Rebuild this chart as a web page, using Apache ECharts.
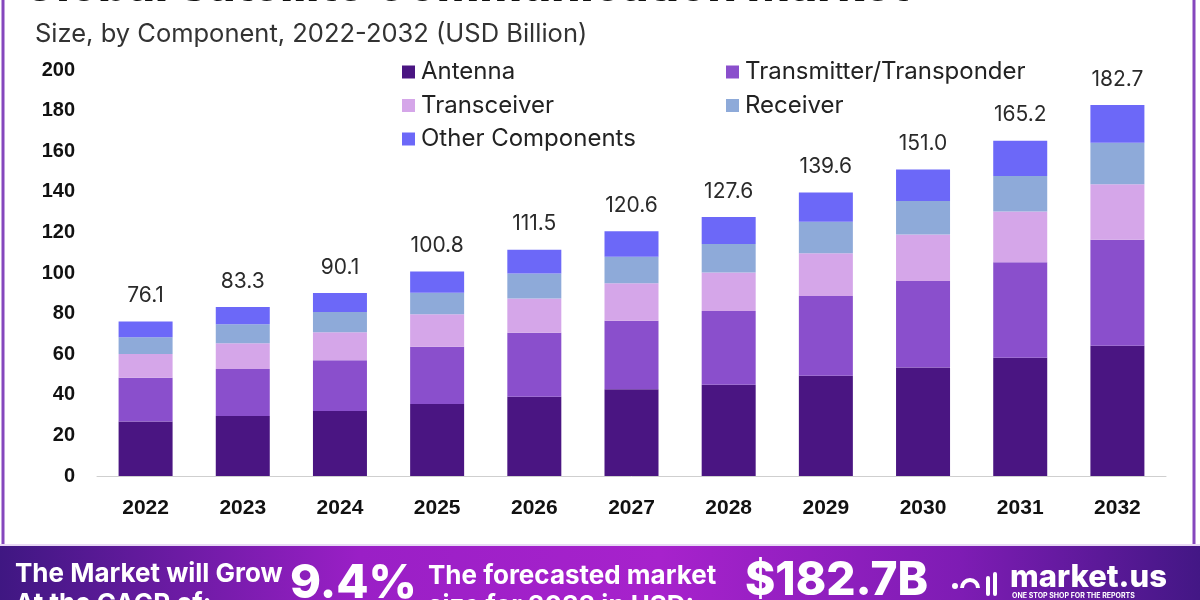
<!DOCTYPE html>
<html>
<head>
<meta charset="utf-8">
<style>html,body{margin:0;padding:0;background:#fff;}#c{width:1200px;height:600px;}</style>
<script src="https://cdn.jsdelivr.net/npm/echarts@6/dist/echarts.min.js"></script>
</head>
<body>
<div id="c"></div>
<script>
const years = ['2022','2023','2024','2025','2026','2027','2028','2029','2030','2031','2032'];
const antenna     = [26.9, 29.6, 32.0, 35.5, 39.1, 42.7, 45.0, 49.4, 53.4, 58.3, 64.2];
const transmitter = [21.5, 23.1, 25.0, 28.2, 31.5, 33.8, 36.3, 39.3, 42.7, 47.0, 52.2];
const transceiver = [11.7, 12.7, 13.8, 16.0, 16.9, 18.4, 19.0, 21.0, 22.9, 25.0, 27.3];
const receiver    = [8.2, 9.3, 10.0, 10.6, 12.3, 13.1, 14.0, 15.6, 16.5, 17.5, 20.5];
const other       = [7.8, 8.6, 9.3, 10.5, 11.7, 12.6, 13.3, 14.3, 15.5, 17.4, 18.5];
const totals      = [76.1, 83.3, 90.1, 100.8, 111.5, 120.6, 127.6, 139.6, 151.0, 165.2, 182.7];
const yTicks = [0, 20, 40, 60, 80, 100, 120, 140, 160, 180, 200];

const colors = {
  'Antenna': '#4a1582',
  'Transmitter/Transponder': '#8a4fcc',
  'Transceiver': '#d5a6e9',
  'Receiver': '#8eaad9',
  'Other Components': '#6c68f8'
};

const chart = echarts.init(document.getElementById('c'), null, {renderer: 'canvas'});
const mk = (name, data, extra) => Object.assign({
  name, type: 'bar', stack: 'total', data, barWidth: 54,
  itemStyle: {color: colors[name]},
  emphasis: {disabled: true}
}, extra || {});

const legendText = {fontFamily: 'Inter, "Open Sans", sans-serif', fontSize: 24, color: '#222', lineHeight: 24, padding: [0, 0, 0, 1]};

const option = {
  animation: false,
  backgroundColor: '#ffffff',
  grid: {left: 97, right: 34, top: 70, bottom: 124, containLabel: false},
  legend: [
    {left: 397, top: 55, orient: 'vertical', itemGap: 9.5, itemWidth: 13, itemHeight: 13, icon: 'rect', selectedMode: false,
     data: ['Antenna', 'Transceiver', 'Other Components'], textStyle: legendText},
    {left: 721, top: 55, orient: 'vertical', itemGap: 9.5, itemWidth: 13, itemHeight: 13, icon: 'rect', selectedMode: false,
     data: ['Transmitter/Transponder', 'Receiver'], textStyle: legendText}
  ],
  xAxis: {
    type: 'category', data: years,
    axisLine: {show: true, lineStyle: {color: '#cfcfcf', width: 1}},
    axisTick: {show: false},
    axisLabel: {margin: 22, fontFamily: '"Liberation Sans Narrow", "Liberation Sans", Arial, sans-serif', fontWeight: 'bold', fontSize: 21, color: '#111'}
  },
  yAxis: {
    type: 'value', min: yTicks[0], max: yTicks[yTicks.length - 1], interval: 20,
    axisLine: {show: false}, axisTick: {show: false}, splitLine: {show: false},
    axisLabel: {margin: 22, fontFamily: '"Liberation Sans", Arial, sans-serif', fontWeight: 'bold', fontSize: 20, color: '#111'}
  },
  series: [
    mk('Antenna', antenna),
    mk('Transmitter/Transponder', transmitter),
    mk('Transceiver', transceiver),
    mk('Receiver', receiver),
    mk('Other Components', other, {
      label: {show: true, position: 'top', distance: 15,
        formatter: p => totals[p.dataIndex].toFixed(1),
        fontFamily: 'Inter, "Open Sans", sans-serif', fontSize: 21, color: '#2a2a2a'}
    })
  ],
  graphic: [
    {type: 'rect', shape: {x: 3, y: -10, width: 1191, height: 556}, style: {fill: 'none', stroke: '#8547bd', lineWidth: 3}, silent: true},
    {type: 'text', left: 22, top: -36, style: {text: 'Global Satellite Communication Market', font: '800 46px Inter, "Open Sans", sans-serif', fill: '#111'}, silent: true},
    {type: 'text', left: 35, top: 21, style: {text: 'Size, by Component, 2022-2032 (USD Billion)', font: '400 25.5px Inter, "Open Sans", sans-serif', fill: '#333'}, silent: true},
    {type: 'rect', shape: {x: 0, y: 546, width: 1200, height: 54}, silent: true,
     style: {fill: new echarts.graphic.LinearGradient(0, 0, 1, 0, [
       {offset: 0, color: '#3f1782'}, {offset: 0.3, color: '#9a1fc6'}, {offset: 0.55, color: '#a722cc'},
       {offset: 0.8, color: '#7e1cb4'}, {offset: 1, color: '#431785'}])}},
    {type: 'rect', shape: {x: 0, y: 544, width: 1200, height: 2}, style: {fill: '#e9d8f5'}, silent: true},
    {type: 'text', left: 15, top: 559, style: {text: 'The Market will Grow\nAt the CAGR of:', font: '700 26px Inter, "Open Sans", sans-serif', fill: '#fff', lineHeight: 30}, silent: true},
    {type: 'text', left: 290, top: 560, style: {text: '9.4%', font: '800 47px Inter, "Open Sans", sans-serif', fill: '#fff'}, silent: true},
    {type: 'text', left: 428, top: 561, style: {text: 'The forecasted market\nsize for 2032 in USD:', font: '700 26px Inter, "Open Sans", sans-serif', fill: '#fff', lineHeight: 30}, silent: true},
    {type: 'text', left: 745, top: 558, style: {text: '$182.7B', font: '800 46px Inter, "Open Sans", sans-serif', fill: '#fff'}, silent: true},
    {type: 'circle', shape: {cx: 955, cy: 586, r: 3}, style: {fill: '#fff'}, silent: true},
    {type: 'arc', shape: {cx: 970, cy: 588, r: 8, startAngle: Math.PI, endAngle: 2 * Math.PI}, style: {stroke: '#fff', lineWidth: 4, fill: 'none'}, silent: true},
    {type: 'rect', shape: {x: 986, y: 576, width: 4, height: 20, r: 2}, style: {fill: '#fff'}, silent: true},
    {type: 'rect', shape: {x: 993, y: 572, width: 4, height: 24, r: 2}, style: {fill: '#fff'}, silent: true},
    {type: 'text', left: 1010, top: 562, style: {text: 'market.us', font: '800 31px Inter, "Open Sans", sans-serif', fill: '#fff'}, silent: true},
    {type: 'text', left: 1012, top: 592, style: {text: 'ONE STOP SHOP FOR THE REPORTS', font: '700 7px Inter, sans-serif', fill: '#fff'}, silent: true}
  ]
};
chart.setOption(option);
</script>
</body>
</html>
